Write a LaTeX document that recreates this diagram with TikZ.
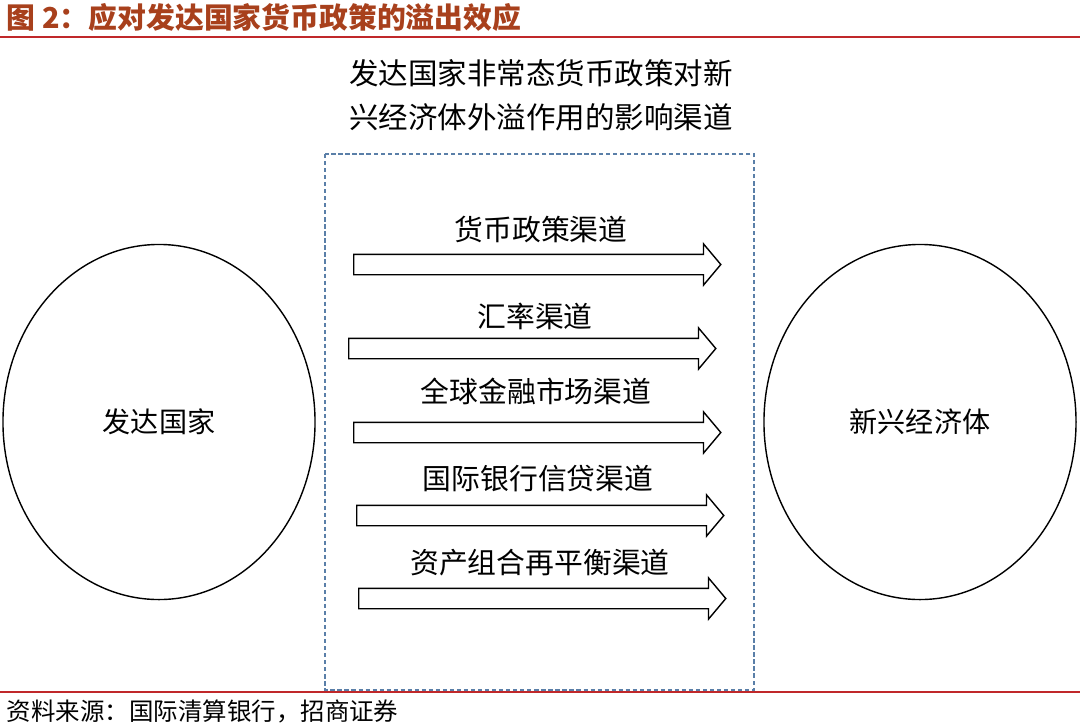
\documentclass[tikz,border=0pt]{standalone}
\usepackage{fontspec}
\newfontfamily\cjk{Noto Sans CJK SC}
\usepackage{xcolor}
\usetikzlibrary{positioning, shapes.geometric, shapes.arrows}
\definecolor{titlebrown}{HTML}{A8401C}
\definecolor{rulered}{HTML}{C0282A}
\definecolor{boxblue}{HTML}{5A7FA8}

\begin{document}
\begin{tikzpicture}[x=0.025cm, y=-0.025cm,
            zone/.style={ellipse, draw=black, line width=1pt, minimum width=7.8cm, minimum height=8.875cm, inner sep=0pt, font=\cjk\fontsize{20}{24}\selectfont},
            chan/.style={single arrow, draw=black, line width=1pt, fill=white, inner xsep=0pt, inner ysep=0.2375cm, minimum height=9.175cm, single arrow head extend=0.26cm, single arrow tip angle=100, anchor=tail},
            lab/.style={font=\cjk\fontsize{20.5}{24}\selectfont}]
            \useasboundingbox (0,0) rectangle (1080,725);
            % title and rules
            \node[anchor=west, text=titlebrown, font=\cjk\bfseries\fontsize{20.5}{24}\selectfont] (title) at (2,17) {图 2：应对发达国家货币政策的溢出效应};
            \draw[rulered, line width=1.4pt] (0,37) -- (1080,37);
            \draw[rulered, line width=1.4pt] (0,692) -- (1080,692);
            \node[anchor=west, font=\cjk\fontsize{17.4}{20}\selectfont] (src) at (2,711) {资料来源：国际清算银行，招商证券};
            % channel box
            \draw[boxblue, line width=1pt, dash pattern=on 3pt off 2pt] (325,154) rectangle (754,690);
            \node[lab, align=center, font=\cjk\fontsize{21}{31.3}\selectfont] (head) at (541,95) {发达国家非常态货币政策对新\\兴经济体外溢作用的影响渠道};
            % economies
            \node[zone] (dev) at (159,422) {发达国家};
            \node[zone] (emg) at (920,422) {新兴经济体};
            % channels
            \node[chan] (c1) at (353,264.5) {};
            \node[chan] (c2) at (348,348.5) {};
            \node[chan] (c3) at (353,432.5) {};
            \node[chan] (c4) at (356,515.5) {};
            \node[chan] (c5) at (358,598.5) {};
            \node[lab] (l1) at (541,229) {货币政策渠道};
            \node[lab] (l2) at (535,316) {汇率渠道};
            \node[lab] (l3) at (536,391) {全球金融市场渠道};
            \node[lab] (l4) at (538,479) {国际银行信贷渠道};
            \node[lab] (l5) at (540,563) {资产组合再平衡渠道};
        \end{tikzpicture}
\end{document}
